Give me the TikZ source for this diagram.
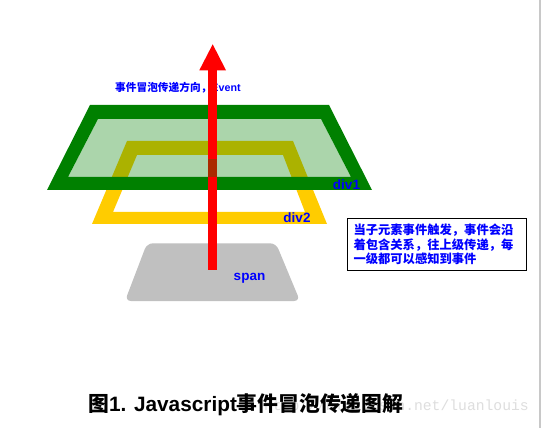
\documentclass[tikz,border=0pt]{standalone}
\usepackage{fontspec}
\setmainfont{Liberation Sans}
\newfontfamily\cjk{Noto Sans CJK SC}
\newfontfamily\wmfont{Liberation Mono}
\definecolor{dgreen}{RGB}{0,128,0}
\definecolor{ygold}{RGB}{255,204,0}
\definecolor{spgray}{RGB}{192,192,192}
\definecolor{darkred}{RGB}{171,42,0}
\definecolor{edgegray}{RGB}{200,200,200}
\tikzset{
  bluelbl/.style={text=blue, font=\bfseries\fontsize{13.5}{15}\selectfont, inner sep=0pt},
}
\begin{document}
\begin{tikzpicture}[x=1pt,y=-1pt]
\useasboundingbox (0,0) rectangle (542,428);
\fill[white] (0,0) rectangle (542,428);
\fill[edgegray] (539.2,0) rectangle (541.3,428);
% span
\fill[spgray, rounded corners=6pt] (147,243.3) -- (276,243.3) -- (300,301) -- (125,301) -- cycle;
\node[bluelbl, anchor=center] (spanlbl) at (249.5,278) {span};
% div2 yellow ring
\fill[ygold, even odd rule] (127,141) -- (293,141) -- (327,224) -- (92,224) -- cycle
  (137,155) -- (283,155) -- (305,212) -- (113,212) -- cycle;
\node[bluelbl, anchor=center] (div2lbl) at (297,218) {div2};
% label text
\node[text=blue, font=\bfseries\fontsize{10.7}{12}\selectfont, inner sep=0pt, anchor=west] (dirlbl) at (115,88) {{\cjk 事件冒泡传递方向，}Event};
% div1 green ring
\fill[dgreen, opacity=0.33] (98,119) -- (321,119) -- (351,177) -- (68,177) -- cycle;
\fill[dgreen, even odd rule] (90,105) -- (329,105) -- (372,190) -- (47,190) -- cycle
  (98,119) -- (321,119) -- (351,177) -- (68,177) -- cycle;
\node[bluelbl, anchor=center] (div1lbl) at (346.5,185) {div1};
% red arrow
\fill[red] (207.7,70) rectangle (216.7,269.5);
\fill[red] (199.3,70.3) -- (226,70.3) -- (212.7,44.3) -- cycle;
\fill[darkred] (207.7,159) rectangle (216.7,177.3);
% text box
\draw[black, line width=1pt] (347.3,218.3) rectangle (526.7,270);
\node[text=blue, font=\cjk\bfseries\fontsize{12.3}{14.6}\selectfont, inner sep=0pt, anchor=west, align=left] (boxtxt) at (353.3,244.6) {当子元素事件触发，事件会沿\\着包含关系，往上级传递，每\\一级都可以感知到事件};
% watermark
\node[text=black!13, font=\wmfont\fontsize{14.7}{16}\selectfont, inner sep=0pt, anchor=east] (wm) at (529,407) {http://blog.csdn.net/luanlouis};
% caption
\node[text=black, font=\bfseries\fontsize{20.8}{22}\selectfont, inner sep=0pt, anchor=west] (cap) at (88,405) {{\cjk 图}1. Javascript{\cjk 事件冒泡传递图解}};
\end{tikzpicture}
\end{document}
